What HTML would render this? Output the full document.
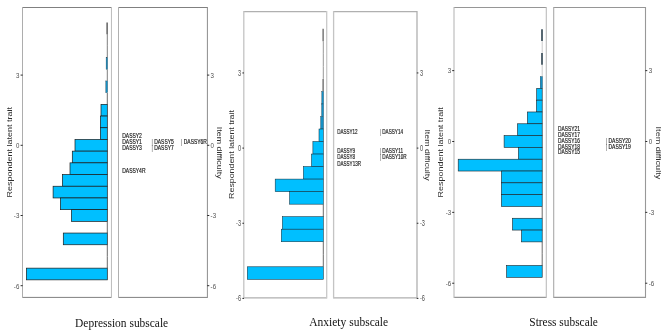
<!DOCTYPE html>
<html><head><meta charset="utf-8"><title>DASS subscales</title>
<style>html,body{margin:0;padding:0;background:#fff}svg{display:block}</style></head>
<body>
<svg width="669" height="335" viewBox="0 0 669 335" font-family="'Liberation Sans', Arial, sans-serif">
<rect width="669" height="335" fill="#fff"/>
<line x1="107.3" y1="34.15" x2="107.3" y2="45.85" stroke="#707070" stroke-width="0.9"/>
<line x1="107.3" y1="45.85" x2="107.3" y2="57.55" stroke="#707070" stroke-width="0.9"/>
<line x1="107.3" y1="69.25" x2="107.3" y2="80.95" stroke="#707070" stroke-width="0.9"/>
<line x1="107.3" y1="92.65" x2="107.3" y2="104.35" stroke="#5a5a5a" stroke-width="0.9"/>
<line x1="107.3" y1="221.35" x2="107.3" y2="233.05" stroke="#5a5a5a" stroke-width="0.9"/>
<line x1="107.3" y1="244.75" x2="107.3" y2="256.45" stroke="#5a5a5a" stroke-width="0.9"/>
<line x1="107.3" y1="256.45" x2="107.3" y2="268.15" stroke="#5a5a5a" stroke-width="0.9"/>
<line x1="107.1" y1="22.45" x2="107.1" y2="34.15" stroke="#3a3a3a" stroke-width="1.2"/>
<rect x="106.10" y="57.55" width="1.50" height="11.70" fill="#1590c4" stroke="#1c3a4a" stroke-width="0.35"/>
<rect x="105.80" y="80.95" width="1.80" height="11.70" fill="#1590c4" stroke="#1c3a4a" stroke-width="0.35"/>
<rect x="101.00" y="104.35" width="6.30" height="11.70" fill="#00BFFF" stroke="#1a1a1a" stroke-width="0.7"/>
<rect x="100.40" y="116.05" width="6.90" height="11.70" fill="#00BFFF" stroke="#1a1a1a" stroke-width="0.7"/>
<rect x="100.40" y="127.75" width="6.90" height="11.70" fill="#00BFFF" stroke="#1a1a1a" stroke-width="0.7"/>
<rect x="75.00" y="139.45" width="32.30" height="11.70" fill="#00BFFF" stroke="#1a1a1a" stroke-width="0.7"/>
<rect x="72.30" y="151.15" width="35.00" height="11.70" fill="#00BFFF" stroke="#1a1a1a" stroke-width="0.7"/>
<rect x="70.00" y="162.85" width="37.30" height="11.70" fill="#00BFFF" stroke="#1a1a1a" stroke-width="0.7"/>
<rect x="62.40" y="174.55" width="44.90" height="11.70" fill="#00BFFF" stroke="#1a1a1a" stroke-width="0.7"/>
<rect x="53.10" y="186.25" width="54.20" height="11.70" fill="#00BFFF" stroke="#1a1a1a" stroke-width="0.7"/>
<rect x="60.40" y="197.95" width="46.90" height="11.70" fill="#00BFFF" stroke="#1a1a1a" stroke-width="0.7"/>
<rect x="71.40" y="209.65" width="35.90" height="11.70" fill="#00BFFF" stroke="#1a1a1a" stroke-width="0.7"/>
<rect x="63.30" y="233.05" width="44.00" height="11.70" fill="#00BFFF" stroke="#1a1a1a" stroke-width="0.7"/>
<rect x="26.40" y="268.15" width="80.90" height="11.70" fill="#00BFFF" stroke="#1a1a1a" stroke-width="0.7"/>
<path d="M22.5 7.5H111.45M22.5 297.4H111.45" fill="none" stroke="#808080" stroke-width="1.0"/>
<path d="M22.5 7.0V297.9" fill="none" stroke="#adadad" stroke-width="1.0"/>
<path d="M111.45 7.0V297.9" fill="none" stroke="#bcbcbc" stroke-width="1.0"/>
<path d="M118.5 7.5H207.4M118.5 297.4H207.4" fill="none" stroke="#808080" stroke-width="1.0"/>
<path d="M118.5 7.0V297.9" fill="none" stroke="#b0b0b0" stroke-width="1.0"/>
<path d="M207.4 7.0V297.9" fill="none" stroke="#8c8c8c" stroke-width="1.0"/>
<line x1="20.60" y1="75.10" x2="22.70" y2="75.10" stroke="#2a2a2a" stroke-width="1"/>
<line x1="207.20" y1="75.10" x2="209.30" y2="75.10" stroke="#2a2a2a" stroke-width="1"/>
<text transform="translate(19.3,77.93) scale(0.774,1)" font-size="7.90" text-anchor="end" fill="#4d4d4d">3</text>
<text transform="translate(210.6,77.93) scale(0.774,1)" font-size="7.90" text-anchor="start" fill="#4d4d4d">3</text>
<line x1="20.60" y1="145.30" x2="22.70" y2="145.30" stroke="#2a2a2a" stroke-width="1"/>
<line x1="207.20" y1="145.30" x2="209.30" y2="145.30" stroke="#2a2a2a" stroke-width="1"/>
<text transform="translate(19.3,148.13) scale(0.774,1)" font-size="7.90" text-anchor="end" fill="#4d4d4d">0</text>
<text transform="translate(210.6,148.13) scale(0.774,1)" font-size="7.90" text-anchor="start" fill="#4d4d4d">0</text>
<line x1="20.60" y1="215.50" x2="22.70" y2="215.50" stroke="#2a2a2a" stroke-width="1"/>
<line x1="207.20" y1="215.50" x2="209.30" y2="215.50" stroke="#2a2a2a" stroke-width="1"/>
<text transform="translate(19.3,218.33) scale(0.774,1)" font-size="7.90" text-anchor="end" fill="#4d4d4d">-3</text>
<text transform="translate(210.6,218.33) scale(0.774,1)" font-size="7.90" text-anchor="start" fill="#4d4d4d">-3</text>
<line x1="20.60" y1="285.70" x2="22.70" y2="285.70" stroke="#2a2a2a" stroke-width="1"/>
<line x1="207.20" y1="285.70" x2="209.30" y2="285.70" stroke="#2a2a2a" stroke-width="1"/>
<text transform="translate(19.3,288.53) scale(0.774,1)" font-size="7.90" text-anchor="end" fill="#4d4d4d">-6</text>
<text transform="translate(210.6,288.53) scale(0.774,1)" font-size="7.90" text-anchor="start" fill="#4d4d4d">-6</text>
<text transform="translate(122.2,138) scale(0.79,1)" font-size="6.3" textLength="24.94" lengthAdjust="spacingAndGlyphs" fill="#1a1a1a" stroke="#1a1a1a" stroke-width="0.18">DASSY2</text>
<text transform="translate(122.2,144) scale(0.79,1)" font-size="6.3" textLength="24.94" lengthAdjust="spacingAndGlyphs" fill="#1a1a1a" stroke="#1a1a1a" stroke-width="0.18">DASSY1</text>
<text transform="translate(122.2,150) scale(0.79,1)" font-size="6.3" textLength="24.94" lengthAdjust="spacingAndGlyphs" fill="#1a1a1a" stroke="#1a1a1a" stroke-width="0.18">DASSY3</text>
<text transform="translate(122.2,173) scale(0.79,1)" font-size="6.3" textLength="29.49" lengthAdjust="spacingAndGlyphs" fill="#1a1a1a" stroke="#1a1a1a" stroke-width="0.18">DASSY4R</text>
<text transform="translate(151.6,144) scale(0.79,1)" font-size="6.3" textLength="27.97" lengthAdjust="spacingAndGlyphs" fill="#1a1a1a" stroke="#1a1a1a" stroke-width="0.18"><tspan fill="#484848" stroke="none">|</tspan> DASSY5</text>
<text transform="translate(151.6,150) scale(0.79,1)" font-size="6.3" textLength="27.97" lengthAdjust="spacingAndGlyphs" fill="#1a1a1a" stroke="#1a1a1a" stroke-width="0.18"><tspan fill="#484848" stroke="none">|</tspan> DASSY7</text>
<text transform="translate(181.1,144) scale(0.79,1)" font-size="6.3" textLength="32.66" lengthAdjust="spacingAndGlyphs" fill="#1a1a1a" stroke="#1a1a1a" stroke-width="0.18"><tspan fill="#484848" stroke="none">|</tspan> DASSY6R</text>
<text transform="translate(12.1,152.25) rotate(-90)" font-size="7.51" text-anchor="middle" textLength="90.5" lengthAdjust="spacingAndGlyphs" fill="#2e2e2e">Respondent latent trait</text>
<text transform="translate(217.0,152.7) rotate(90)" font-size="7.51" text-anchor="middle" textLength="52.0" lengthAdjust="spacingAndGlyphs" fill="#2e2e2e">Item difficulty</text>
<text x="121.65" y="326.6" font-family="'Liberation Serif', 'Times New Roman', serif" font-size="11.45" text-anchor="middle" textLength="93.1" lengthAdjust="spacingAndGlyphs" fill="#111">Depression subscale</text>
<line x1="323.3" y1="41.34" x2="323.3" y2="53.86" stroke="#8c8c8c" stroke-width="0.9"/>
<line x1="323.3" y1="53.86" x2="323.3" y2="66.39" stroke="#8c8c8c" stroke-width="0.9"/>
<line x1="323.3" y1="66.39" x2="323.3" y2="78.91" stroke="#8c8c8c" stroke-width="0.9"/>
<line x1="323.3" y1="204.16" x2="323.3" y2="216.69" stroke="#5a5a5a" stroke-width="0.9"/>
<line x1="323.3" y1="241.74" x2="323.3" y2="254.26" stroke="#5a5a5a" stroke-width="0.9"/>
<line x1="323.3" y1="254.26" x2="323.3" y2="266.79" stroke="#5a5a5a" stroke-width="0.9"/>
<line x1="323.1" y1="28.81" x2="323.1" y2="41.34" stroke="#4a4a4a" stroke-width="1.1"/>
<line x1="323.1" y1="78.91" x2="323.1" y2="91.44" stroke="#4a4a4a" stroke-width="1.1"/>
<rect x="321.80" y="91.44" width="1.80" height="12.53" fill="#1590c4" stroke="#1c3a4a" stroke-width="0.35"/>
<rect x="321.60" y="103.96" width="2.00" height="12.53" fill="#1590c4" stroke="#1c3a4a" stroke-width="0.35"/>
<rect x="320.60" y="116.49" width="3.00" height="12.53" fill="#1590c4" stroke="#1c3a4a" stroke-width="0.35"/>
<rect x="319.00" y="129.01" width="4.30" height="12.53" fill="#00BFFF" stroke="#10303f" stroke-width="0.55"/>
<rect x="312.90" y="141.54" width="10.40" height="12.52" fill="#00BFFF" stroke="#10303f" stroke-width="0.55"/>
<rect x="311.50" y="154.06" width="11.80" height="12.53" fill="#00BFFF" stroke="#10303f" stroke-width="0.55"/>
<rect x="303.40" y="166.59" width="19.90" height="12.53" fill="#00BFFF" stroke="#10303f" stroke-width="0.55"/>
<rect x="275.20" y="179.11" width="48.10" height="12.53" fill="#00BFFF" stroke="#10303f" stroke-width="0.55"/>
<rect x="289.60" y="191.64" width="33.70" height="12.53" fill="#00BFFF" stroke="#10303f" stroke-width="0.55"/>
<rect x="282.40" y="216.69" width="40.90" height="12.53" fill="#00BFFF" stroke="#10303f" stroke-width="0.55"/>
<rect x="281.30" y="229.21" width="42.00" height="12.52" fill="#00BFFF" stroke="#10303f" stroke-width="0.55"/>
<rect x="247.30" y="266.79" width="76.00" height="12.52" fill="#00BFFF" stroke="#10303f" stroke-width="0.55"/>
<path d="M243.8 11.6H326.7M243.8 297.9H326.7" fill="none" stroke="#b0b0b0" stroke-width="1.3"/>
<path d="M243.8 10.95V298.54999999999995" fill="none" stroke="#c4c4c4" stroke-width="1.3"/>
<path d="M326.7 10.95V298.54999999999995" fill="none" stroke="#c8c8c8" stroke-width="1.3"/>
<path d="M333.6 11.6H417.0M333.6 297.9H417.0" fill="none" stroke="#b0b0b0" stroke-width="1.3"/>
<path d="M333.6 10.95V298.54999999999995" fill="none" stroke="#c4c4c4" stroke-width="1.3"/>
<path d="M417.0 10.95V298.54999999999995" fill="none" stroke="#b0b0b0" stroke-width="1.3"/>
<line x1="242.40" y1="72.95" x2="244.00" y2="72.95" stroke="#2a2a2a" stroke-width="1"/>
<line x1="416.80" y1="72.95" x2="418.40" y2="72.95" stroke="#2a2a2a" stroke-width="1"/>
<text transform="translate(241.0,75.96) scale(0.666,1)" font-size="8.40" text-anchor="end" fill="#4d4d4d">3</text>
<text transform="translate(420.0,75.96) scale(0.666,1)" font-size="8.40" text-anchor="start" fill="#4d4d4d">3</text>
<line x1="242.40" y1="148.10" x2="244.00" y2="148.10" stroke="#2a2a2a" stroke-width="1"/>
<line x1="416.80" y1="148.10" x2="418.40" y2="148.10" stroke="#2a2a2a" stroke-width="1"/>
<text transform="translate(241.0,151.11) scale(0.666,1)" font-size="8.40" text-anchor="end" fill="#4d4d4d">0</text>
<text transform="translate(420.0,151.11) scale(0.666,1)" font-size="8.40" text-anchor="start" fill="#4d4d4d">0</text>
<line x1="242.40" y1="223.25" x2="244.00" y2="223.25" stroke="#2a2a2a" stroke-width="1"/>
<line x1="416.80" y1="223.25" x2="418.40" y2="223.25" stroke="#2a2a2a" stroke-width="1"/>
<text transform="translate(241.0,226.26) scale(0.666,1)" font-size="8.40" text-anchor="end" fill="#4d4d4d">-3</text>
<text transform="translate(420.0,226.26) scale(0.666,1)" font-size="8.40" text-anchor="start" fill="#4d4d4d">-3</text>
<line x1="242.40" y1="298.40" x2="244.00" y2="298.40" stroke="#2a2a2a" stroke-width="1"/>
<line x1="416.80" y1="298.40" x2="418.40" y2="298.40" stroke="#2a2a2a" stroke-width="1"/>
<text transform="translate(241.0,301.41) scale(0.666,1)" font-size="8.40" text-anchor="end" fill="#4d4d4d">-6</text>
<text transform="translate(420.0,301.41) scale(0.666,1)" font-size="8.40" text-anchor="start" fill="#4d4d4d">-6</text>
<text transform="translate(337.2,134) scale(0.68,1)" font-size="6.7" textLength="30.00" lengthAdjust="spacingAndGlyphs" fill="#1a1a1a" stroke="#1a1a1a" stroke-width="0.18">DASSY12</text>
<text transform="translate(337.2,153) scale(0.68,1)" font-size="6.7" textLength="26.32" lengthAdjust="spacingAndGlyphs" fill="#1a1a1a" stroke="#1a1a1a" stroke-width="0.18">DASSY9</text>
<text transform="translate(337.2,159) scale(0.68,1)" font-size="6.7" textLength="26.32" lengthAdjust="spacingAndGlyphs" fill="#1a1a1a" stroke="#1a1a1a" stroke-width="0.18">DASSY8</text>
<text transform="translate(337.2,166) scale(0.68,1)" font-size="6.7" textLength="35.00" lengthAdjust="spacingAndGlyphs" fill="#1a1a1a" stroke="#1a1a1a" stroke-width="0.18">DASSY13R</text>
<text transform="translate(379.8,134) scale(0.68,1)" font-size="6.7" textLength="34.26" lengthAdjust="spacingAndGlyphs" fill="#1a1a1a" stroke="#1a1a1a" stroke-width="0.18"><tspan fill="#484848" stroke="none">|</tspan> DASSY14</text>
<text transform="translate(379.8,153) scale(0.68,1)" font-size="6.7" textLength="34.26" lengthAdjust="spacingAndGlyphs" fill="#1a1a1a" stroke="#1a1a1a" stroke-width="0.18"><tspan fill="#484848" stroke="none">|</tspan> DASSY11</text>
<text transform="translate(379.8,159) scale(0.68,1)" font-size="6.7" textLength="39.41" lengthAdjust="spacingAndGlyphs" fill="#1a1a1a" stroke="#1a1a1a" stroke-width="0.18"><tspan fill="#484848" stroke="none">|</tspan> DASSY10R</text>
<text transform="translate(234.1,154.5) rotate(-90)" font-size="6.87" text-anchor="middle" textLength="88.8" lengthAdjust="spacingAndGlyphs" fill="#2e2e2e">Respondent latent trait</text>
<text transform="translate(425.2,155.0) rotate(90)" font-size="6.87" text-anchor="middle" textLength="51.2" lengthAdjust="spacingAndGlyphs" fill="#2e2e2e">Item difficulty</text>
<text x="348.7" y="326.3" font-family="'Liberation Serif', 'Times New Roman', serif" font-size="11.45" text-anchor="middle" textLength="78.9" lengthAdjust="spacingAndGlyphs" fill="#111">Anxiety subscale</text>
<line x1="542.2" y1="41.11" x2="542.2" y2="52.92" stroke="#c4c4c4" stroke-width="0.9"/>
<line x1="542.2" y1="64.73" x2="542.2" y2="76.55" stroke="#c4c4c4" stroke-width="0.9"/>
<line x1="542.2" y1="206.45" x2="542.2" y2="218.26" stroke="#5a5a5a" stroke-width="0.9"/>
<line x1="542.2" y1="241.88" x2="542.2" y2="253.69" stroke="#5a5a5a" stroke-width="0.9"/>
<line x1="542.2" y1="253.69" x2="542.2" y2="265.50" stroke="#5a5a5a" stroke-width="0.9"/>
<line x1="542.0" y1="29.30" x2="542.0" y2="41.11" stroke="#1e3442" stroke-width="1.5"/>
<line x1="542.0" y1="52.92" x2="542.0" y2="64.73" stroke="#1e3442" stroke-width="1.5"/>
<rect x="540.20" y="76.55" width="2.30" height="11.81" fill="#1590c4" stroke="#1c3a4a" stroke-width="0.35"/>
<rect x="536.70" y="88.35" width="5.50" height="11.81" fill="#00BFFF" stroke="#1c2226" stroke-width="0.6"/>
<rect x="536.40" y="100.16" width="5.80" height="11.81" fill="#00BFFF" stroke="#1c2226" stroke-width="0.6"/>
<rect x="527.40" y="111.97" width="14.80" height="11.81" fill="#00BFFF" stroke="#1c2226" stroke-width="0.6"/>
<rect x="517.50" y="123.78" width="24.70" height="11.81" fill="#00BFFF" stroke="#1c2226" stroke-width="0.6"/>
<rect x="504.10" y="135.59" width="38.10" height="11.81" fill="#00BFFF" stroke="#1c2226" stroke-width="0.6"/>
<rect x="518.40" y="147.41" width="23.80" height="11.81" fill="#00BFFF" stroke="#1c2226" stroke-width="0.6"/>
<rect x="458.20" y="159.22" width="84.00" height="11.81" fill="#00BFFF" stroke="#1c2226" stroke-width="0.6"/>
<rect x="501.40" y="171.03" width="40.80" height="11.81" fill="#00BFFF" stroke="#1c2226" stroke-width="0.6"/>
<rect x="501.40" y="182.84" width="40.80" height="11.81" fill="#00BFFF" stroke="#1c2226" stroke-width="0.6"/>
<rect x="501.40" y="194.65" width="40.80" height="11.81" fill="#00BFFF" stroke="#1c2226" stroke-width="0.6"/>
<rect x="512.50" y="218.26" width="29.70" height="11.81" fill="#00BFFF" stroke="#1c2226" stroke-width="0.6"/>
<rect x="521.50" y="230.07" width="20.70" height="11.81" fill="#00BFFF" stroke="#1c2226" stroke-width="0.6"/>
<rect x="506.60" y="265.50" width="35.60" height="11.81" fill="#00BFFF" stroke="#1c2226" stroke-width="0.6"/>
<path d="M454.0 7.5H546.3M454.0 297.4H546.3" fill="none" stroke="#969696" stroke-width="1.1"/>
<path d="M454.0 6.95V297.95" fill="none" stroke="#b8b8b8" stroke-width="1.1"/>
<path d="M546.3 6.95V297.95" fill="none" stroke="#bcbcbc" stroke-width="1.1"/>
<path d="M553.7 7.5H645.5M553.7 297.4H645.5" fill="none" stroke="#969696" stroke-width="1.1"/>
<path d="M553.7 6.95V297.95" fill="none" stroke="#aaaaaa" stroke-width="1.1"/>
<path d="M645.5 6.95V297.95" fill="none" stroke="#989898" stroke-width="1.1"/>
<line x1="452.20" y1="70.64" x2="454.20" y2="70.64" stroke="#2a2a2a" stroke-width="1"/>
<line x1="645.30" y1="70.64" x2="647.30" y2="70.64" stroke="#2a2a2a" stroke-width="1"/>
<text transform="translate(451.2,73.47) scale(0.784,1)" font-size="7.90" text-anchor="end" fill="#4d4d4d">3</text>
<text transform="translate(648.8,73.47) scale(0.784,1)" font-size="7.90" text-anchor="start" fill="#4d4d4d">3</text>
<line x1="452.20" y1="141.50" x2="454.20" y2="141.50" stroke="#2a2a2a" stroke-width="1"/>
<line x1="645.30" y1="141.50" x2="647.30" y2="141.50" stroke="#2a2a2a" stroke-width="1"/>
<text transform="translate(451.2,144.33) scale(0.784,1)" font-size="7.90" text-anchor="end" fill="#4d4d4d">0</text>
<text transform="translate(648.8,144.33) scale(0.784,1)" font-size="7.90" text-anchor="start" fill="#4d4d4d">0</text>
<line x1="452.20" y1="212.36" x2="454.20" y2="212.36" stroke="#2a2a2a" stroke-width="1"/>
<line x1="645.30" y1="212.36" x2="647.30" y2="212.36" stroke="#2a2a2a" stroke-width="1"/>
<text transform="translate(451.2,215.19) scale(0.784,1)" font-size="7.90" text-anchor="end" fill="#4d4d4d">-3</text>
<text transform="translate(648.8,215.19) scale(0.784,1)" font-size="7.90" text-anchor="start" fill="#4d4d4d">-3</text>
<line x1="452.20" y1="283.22" x2="454.20" y2="283.22" stroke="#2a2a2a" stroke-width="1"/>
<line x1="645.30" y1="283.22" x2="647.30" y2="283.22" stroke="#2a2a2a" stroke-width="1"/>
<text transform="translate(451.2,286.05) scale(0.784,1)" font-size="7.90" text-anchor="end" fill="#4d4d4d">-6</text>
<text transform="translate(648.8,286.05) scale(0.784,1)" font-size="7.90" text-anchor="start" fill="#4d4d4d">-6</text>
<text transform="translate(558.0,131) scale(0.8,1)" font-size="6.3" textLength="27.37" lengthAdjust="spacingAndGlyphs" fill="#1a1a1a" stroke="#1a1a1a" stroke-width="0.18">DASSY21</text>
<text transform="translate(558.0,137) scale(0.8,1)" font-size="6.3" textLength="27.37" lengthAdjust="spacingAndGlyphs" fill="#1a1a1a" stroke="#1a1a1a" stroke-width="0.18">DASSY17</text>
<text transform="translate(558.0,143) scale(0.8,1)" font-size="6.3" textLength="27.37" lengthAdjust="spacingAndGlyphs" fill="#1a1a1a" stroke="#1a1a1a" stroke-width="0.18">DASSY16</text>
<text transform="translate(558.0,149) scale(0.8,1)" font-size="6.3" textLength="27.37" lengthAdjust="spacingAndGlyphs" fill="#1a1a1a" stroke="#1a1a1a" stroke-width="0.18">DASSY18</text>
<text transform="translate(558.0,154) scale(0.8,1)" font-size="6.3" textLength="27.37" lengthAdjust="spacingAndGlyphs" fill="#1a1a1a" stroke="#1a1a1a" stroke-width="0.18">DASSY15</text>
<text transform="translate(605.8,143) scale(0.8,1)" font-size="6.3" textLength="31.38" lengthAdjust="spacingAndGlyphs" fill="#1a1a1a" stroke="#1a1a1a" stroke-width="0.18"><tspan fill="#484848" stroke="none">|</tspan> DASSY20</text>
<text transform="translate(605.8,149) scale(0.8,1)" font-size="6.3" textLength="31.38" lengthAdjust="spacingAndGlyphs" fill="#1a1a1a" stroke="#1a1a1a" stroke-width="0.18"><tspan fill="#484848" stroke="none">|</tspan> DASSY19</text>
<text transform="translate(443.0,152.3) rotate(-90)" font-size="7.60" text-anchor="middle" textLength="90.2" lengthAdjust="spacingAndGlyphs" fill="#2e2e2e">Respondent latent trait</text>
<text transform="translate(655.6,152.9) rotate(90)" font-size="7.60" text-anchor="middle" textLength="52.6" lengthAdjust="spacingAndGlyphs" fill="#2e2e2e">Item difficulty</text>
<text x="563.6" y="326.3" font-family="'Liberation Serif', 'Times New Roman', serif" font-size="11.45" text-anchor="middle" textLength="68.6" lengthAdjust="spacingAndGlyphs" fill="#111">Stress subscale</text>
</svg>
</body></html>
